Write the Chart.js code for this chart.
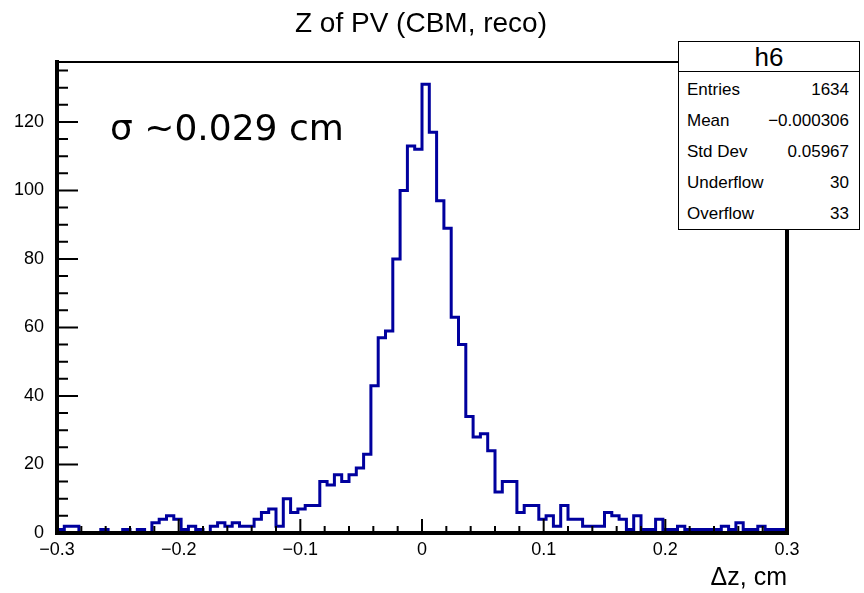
<!DOCTYPE html>
<html>
<head>
<meta charset="utf-8">
<script src="https://cdn.jsdelivr.net/npm/chart.js@4/dist/chart.umd.min.js"></script>
<style>
  html, body { margin: 0; padding: 0; background: #fff; }
  body { width: 864px; height: 593px; position: relative; overflow: hidden; font-family: "Liberation Sans", Arial, sans-serif; color: #000; }
  #c { position: absolute; left: 0; top: 0; }
  .txt { position: absolute; line-height: 1; white-space: nowrap; }
  #title { left: 0; width: 842px; top: 9px; text-align: center; font-size: 28px; }
  #sigma { left: 110px; top: 110px; font-family: "DejaVu Sans", sans-serif; font-size: 36px; }
  #stats { position: absolute; left: 678px; top: 41px; width: 182px; height: 189px; box-sizing: border-box; border: 1px solid #000; background: #fff; }
  #statsSep { position: absolute; left: 678px; top: 71px; width: 182px; border-top: 1px solid #000; }
  #statsName { left: 678px; width: 182px; top: 44px; text-align: center; font-size: 26px; }
  .slabel { left: 687px; font-size: 17px; }
  .svalue { left: 678px; width: 171px; text-align: right; font-size: 17px; }
</style>
</head>
<body>
<canvas id="c" width="864" height="593"></canvas>
<div id="title" class="txt">Z of PV (CBM, reco)</div>
<div id="sigma" class="txt">σ ~0.029 cm</div>
<div id="stats"></div>
<div id="statsSep"></div>
<div id="statsName" class="txt">h6</div>
<script>
// histogram h6: 100 bins from -0.3 to 0.3
const xMin = -0.3;
const xMax = 0.3;
const binWidth = 0.006;
const counts = [
  1, 2, 2, 0, 0, 0, 1, 0, 0, 1,
  0, 1, 0, 3, 4, 5, 4, 1, 2, 1,
  0, 2, 3, 2, 3, 2, 2, 4, 6, 7,
  2, 10, 6, 7, 8, 8, 15, 14, 17, 15,
  17, 19, 23, 43, 57, 59, 80, 100, 113, 112,
  131, 117, 97, 89, 63, 55, 34, 28, 29, 24,
  12, 15, 15, 6, 8, 8, 4, 5, 2, 8,
  4, 4, 2, 2, 2, 6, 5, 4, 1, 5,
  1, 1, 4, 1, 1, 2, 1, 1, 1, 1,
  1, 2, 1, 3, 1, 1, 2, 1, 1, 1
];
const xTickValues = [-0.3, -0.2, -0.1, 0, 0.1, 0.2, 0.3];
const yTickValues = [0, 20, 40, 60, 80, 100, 120];
const yMax = 137.5;

// stats box
const statLabels = ["Entries", "Mean", "Std Dev", "Underflow", "Overflow"];
const statValues = ["1634", "\u22120.000306", "0.05967", "30", "33"];

statLabels.forEach((lab, i) => {
  const top = 80.6 + i * 31.2;
  const l = document.createElement("div");
  l.className = "txt slabel";
  l.style.top = top + "px";
  l.textContent = lab;
  document.body.appendChild(l);
  const v = document.createElement("div");
  v.className = "txt svalue";
  v.style.top = top + "px";
  v.textContent = statValues[i];
  document.body.appendChild(v);
});

// step outline of the histogram
const outline = [{ x: xMin, y: 0 }];
counts.forEach((c, i) => outline.push({ x: xMin + i * binWidth, y: c }));
outline.push({ x: xMax, y: counts[counts.length - 1] });
outline.push({ x: xMax, y: 0 });

function fmtX(v) {
  if (Math.abs(v) < 1e-9) return "0";
  return v.toFixed(1).replace("-", "\u2212");
}

// ROOT-like frame with inward ticks
const rootFrame = {
  id: "rootFrame",
  afterDatasetsDraw(chart) {
    const { ctx, chartArea: a, scales } = chart;
    const x = scales.x, y = scales.y;
    ctx.save();
    ctx.strokeStyle = "#000";
    ctx.lineWidth = 2;
    ctx.beginPath();
    for (let v = 0; v <= yMax; v += 5) {
      const py = y.getPixelForValue(v);
      const len = v % 20 === 0 ? 21 : 11;
      ctx.moveTo(a.left, py);
      ctx.lineTo(a.left + len, py);
    }
    for (let i = 0; i <= 30; i++) {
      const px = x.getPixelForValue(xMin + i * 0.02);
      const len = i % 5 === 0 ? 14 : 7;
      ctx.moveTo(px, a.bottom);
      ctx.lineTo(px, a.bottom - len);
    }
    ctx.stroke();

    ctx.lineCap = "square";
    ctx.lineWidth = 2;
    ctx.beginPath();
    ctx.moveTo(a.left, a.top);
    ctx.lineTo(a.right, a.top);
    ctx.stroke();
    ctx.lineWidth = 4;
    ctx.beginPath();
    ctx.moveTo(a.left, a.top);
    ctx.lineTo(a.left, a.bottom);
    ctx.lineTo(a.right, a.bottom);
    ctx.lineTo(a.right, a.top);
    ctx.stroke();
    ctx.restore();
  }
};

new Chart(document.getElementById("c"), {
  type: "line",
  data: {
    datasets: [{
      data: outline,
      stepped: "before",
      borderColor: "#00009e",
      borderWidth: 3,
      pointRadius: 0,
      fill: false,
      tension: 0
    }]
  },
  options: {
    responsive: false,
    animation: false,
    layout: { padding: { top: 62, right: 77, left: 0, bottom: 0 } },
    plugins: { legend: { display: false }, tooltip: { enabled: false } },
    scales: {
      x: {
        type: "linear",
        min: xMin,
        max: xMax,
        afterBuildTicks: s => { s.ticks = xTickValues.map(v => ({ value: v })); },
        afterFit: s => { s.height = 60; },
        grid: { display: false },
        border: { display: false },
        ticks: {
          padding: -2,
          color: "#000",
          maxRotation: 0,
          autoSkip: false,
          font: { family: "Liberation Sans", size: 18 },
          callback: v => fmtX(v)
        },
        title: {
          display: true,
          text: "\u0394z, cm",
          align: "end",
          color: "#000",
          font: { family: "Liberation Sans", size: 25 },
          padding: { top: 0, bottom: 0 }
        }
      },
      y: {
        type: "linear",
        min: 0,
        max: yMax,
        afterBuildTicks: s => { s.ticks = yTickValues.map(v => ({ value: v })); },
        afterFit: s => { s.width = 57; },
        grid: { display: false },
        border: { display: false },
        ticks: {
          padding: 5,
          color: "#000",
          font: { family: "Liberation Sans", size: 18 },
          callback: v => String(v)
        }
      }
    }
  },
  plugins: [rootFrame]
});
</script>
</body>
</html>
